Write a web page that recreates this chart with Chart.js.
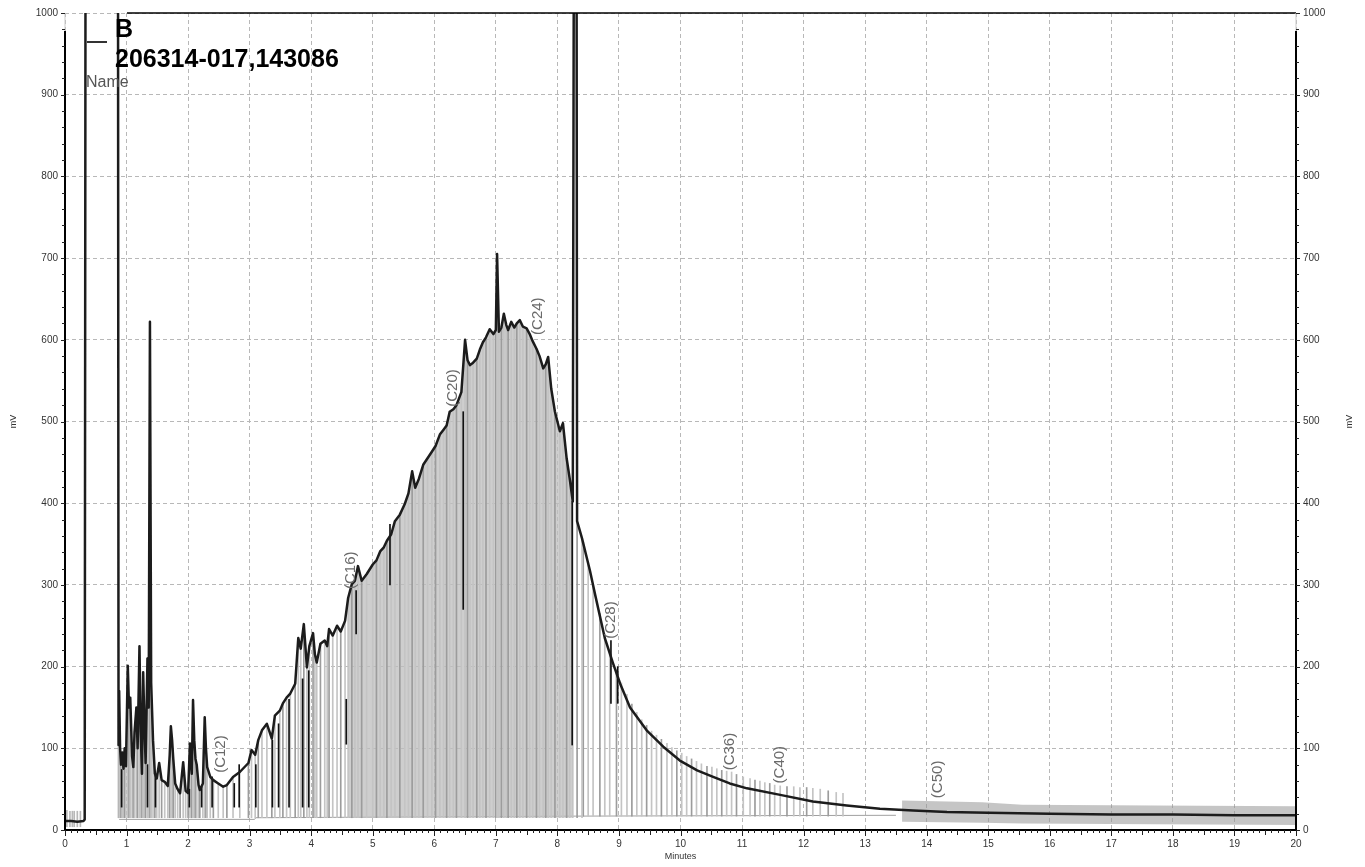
<!DOCTYPE html>
<html>
<head>
<meta charset="utf-8">
<title>206314-017,143086</title>
<script src="https://cdn.jsdelivr.net/npm/chart.js@4.4.1/dist/chart.umd.min.js"></script>
<style>
  html, body { margin: 0; padding: 0; background: #fff; }
  #wrap { width: 1365px; height: 867px; }
</style>
</head>
<body>
<div id="wrap"><canvas id="chromChart" width="1365" height="867"></canvas></div>
<script>
// main chromatogram trace (minutes, mV) - values above 1000 are off scale
var traceTimes = [0, 0.1, 0.2, 0.3, 0.32, 0.335, 0.86, 0.87, 0.88, 0.895, 0.91, 0.93, 0.95, 0.97, 0.99,
  1.02, 1.04, 1.06, 1.09, 1.11, 1.13, 1.16, 1.18, 1.21, 1.23, 1.25, 1.27, 1.29, 1.31, 1.34, 1.36, 1.38,
  1.40, 1.43, 1.46, 1.49, 1.53, 1.57, 1.62, 1.67, 1.70, 1.72, 1.74, 1.76, 1.79, 1.83, 1.87, 1.92, 1.96,
  2.00, 2.03, 2.05, 2.06, 2.08, 2.10, 2.12, 2.14, 2.17, 2.19, 2.24, 2.27, 2.29, 2.31, 2.36, 2.41, 2.49,
  2.57, 2.63, 2.73, 2.84, 2.98, 3.03, 3.09, 3.14, 3.20, 3.28, 3.36, 3.41, 3.49, 3.54, 3.60, 3.66, 3.74,
  3.79, 3.83, 3.88, 3.93, 3.97, 4.03, 4.06, 4.09, 4.15, 4.22, 4.26, 4.29, 4.35, 4.42, 4.48, 4.55, 4.60,
  4.66, 4.71, 4.76, 4.82, 4.90, 5.00, 5.06, 5.12, 5.18, 5.23, 5.30, 5.36, 5.44, 5.52, 5.58, 5.64, 5.69,
  5.75, 5.82, 5.89, 5.96, 6.02, 6.09, 6.15, 6.20, 6.25, 6.31, 6.36, 6.44, 6.50, 6.54, 6.58, 6.63, 6.69,
  6.74, 6.79, 6.84, 6.90, 6.96, 7.00, 7.02, 7.05, 7.09, 7.13, 7.17, 7.20, 7.25, 7.30, 7.34, 7.39, 7.44,
  7.50, 7.55, 7.60, 7.66, 7.71, 7.77, 7.81, 7.85, 7.90, 7.96, 8.04, 8.09, 8.15, 8.20, 8.25, 8.27, 8.31,
  8.32, 8.40, 8.53, 8.61, 8.77, 8.90, 9.02, 9.18, 9.45, 9.72, 9.99, 10.27, 10.53, 10.80, 11.08, 11.62,
  12.15, 12.70, 13.24, 13.78, 14.33, 15, 16, 17, 18, 19, 20];
var traceValues = [11, 11, 10, 11, 13, 1200, 1200, 104, 170, 100, 80, 95, 75, 100, 78,
  201, 150, 162, 90, 77, 120, 150, 100, 225, 120, 69, 193, 130, 82, 210, 150, 622,
  180, 110, 69, 63, 82, 61, 59, 54, 90, 127, 110, 86, 57, 50, 45, 83, 48,
  45, 106, 80, 69, 159, 110, 87, 80, 55, 49, 57, 138, 100, 77, 65, 61, 57,
  53, 55, 65, 71, 82, 98, 92, 110, 122, 130, 112, 140, 146, 155, 162, 167, 179,
  235, 222, 252, 199, 225, 241, 215, 205, 228, 232, 225, 246, 238, 250, 243, 256, 284,
  301, 305, 323, 305, 313, 325, 330, 341, 346, 354, 362, 378, 386, 399, 412, 439, 419,
  430, 447, 455, 463, 470, 484, 490, 495, 512, 515, 520, 536, 600, 575, 569, 572, 577,
  588, 597, 603, 613, 607, 612, 705, 610, 615, 632, 618, 612, 622, 615, 620, 624, 616,
  614, 607, 598, 589, 580, 565, 570, 579, 540, 512, 488, 498, 455, 430, 402, 1200, 1200,
  378, 357, 317, 289, 235, 205, 179, 150, 122, 102, 85, 73, 65, 57, 51, 43,
  35, 30, 26, 24, 22, 21, 20, 19, 19, 18, 18];

// integration baseline
var baseTimes = [0.88, 3.08, 3.1, 8.3, 13.5];
var baseValues = [13, 13, 15, 17, 18];
var dropBase = 15;

// gray peak-marker lines on the tail
var tailTimes = [8.42, 8.50, 8.58, 8.69, 8.77, 8.85, 8.96, 9.04, 9.13, 9.21, 9.29, 9.37, 9.45, 9.53,
  9.61, 9.69, 9.78, 9.86, 9.94, 10.02, 10.10, 10.18, 10.26, 10.34, 10.43, 10.51, 10.59, 10.67, 10.75,
  10.83, 10.91, 11.02, 11.13, 11.21, 11.29, 11.37, 11.45, 11.53, 11.62, 11.73, 11.84, 11.94, 12.05,
  12.15, 12.27, 12.40, 12.53, 12.64];
var tailTops = [352, 328, 302, 265, 240, 218, 196, 180, 166, 154, 144, 135, 128, 121,
  116, 111, 106, 101, 97, 94, 90, 87, 84, 81, 78, 77, 75, 73, 72,
  71, 68, 65, 63, 61, 60, 58, 57, 55, 54, 53, 53, 52, 52,
  51, 50, 48, 46, 45];

// short markers before the solvent peak
var earlyTimes = [0.03, 0.08, 0.12, 0.15, 0.2, 0.25];
var earlyTops = [24, 23, 23, 23, 23, 23];

// late marker band (13.6 - 20 min)
var bandTimes = [13.6, 14.9, 15.55, 17.7, 20];
var bandHigh = [36, 34, 31, 30, 29];
var bandLow = [10, 9, 8, 7, 6];

// black integration marks
var blackTimes = [0.92, 1.34, 1.47, 2.02, 2.22, 2.39, 2.75, 2.83, 3.10, 3.37, 3.47, 3.64, 3.86, 3.96,
  4.57, 4.73, 5.28, 6.47, 8.24, 8.87, 8.98];
var blackLows = [28, 28, 28, 28, 28, 28, 28, 28, 28, 28, 28, 28, 28, 28,
  105, 240, 300, 270, 104, 155, 155];
var blackHighs = [74, 80, 69, 50, 53, 65, 57, 80, 80, 110, 130, 160, 185, 195,
  160, 293, 374, 512, 402, 232, 200];

// carbon number labels
var peakNames = ['(C12)', '(C16)', '(C20)', '(C24)', '(C28)', '(C36)', '(C40)', '(C50)'];
var peakTimes = [2.53, 4.65, 6.3, 7.69, 8.87, 10.8, 11.62, 14.18];
var peakLevels = [70, 295, 518, 606, 234, 73, 57, 39];

var yTicks = [0, 100, 200, 300, 400, 500, 600, 700, 800, 900, 1000];
var xTicks = [0, 1, 2, 3, 4, 5, 6, 7, 8, 9, 10, 11, 12, 13, 14, 15, 16, 17, 18, 19, 20];

var sansFont = 'Arial, "Liberation Sans", sans-serif';

function pts(xs, ys) {
    return xs.map(function (t, i) { return { x: t, y: ys[i] }; });
}
function plainLabel(v) { return String(v); }

var traceData = pts(traceTimes, traceValues);
var traceDrops = [];
var denseFill = [];
traceTimes.forEach(function (t, i) {
    var v = traceValues[i];
    if (t > 0.86 && t < 8.41 && v < 1000) traceDrops.push({ x: t, y: [dropBase, v] });
    if (t >= 4.6 && t <= 8.25) denseFill.push({ x: t, y: v });
});
var tailDrops = tailTimes.map(function (t, i) { return { x: t, y: [17, tailTops[i]] }; });
var earlyDrops = earlyTimes.map(function (t, i) { return { x: t, y: [4, earlyTops[i]] }; });
var blackDrops = blackTimes.map(function (t, i) { return { x: t, y: [blackLows[i], blackHighs[i]] }; });

function stripe(c) { return c.dataIndex % 3 === 0 ? '#9c9c9c' : '#c4c4c4'; }

var overlayPlugin = {
    id: 'chromOverlay',
    afterDatasetsDraw: function (chart) {
        var ctx = chart.ctx;
        var xs = chart.scales.x, ys = chart.scales.y;
        var a = chart.chartArea;
        ctx.save();

        // carbon labels
        ctx.fillStyle = '#6a6a6a';
        ctx.font = '15px ' + sansFont;
        ctx.textAlign = 'left';
        ctx.textBaseline = 'middle';
        peakNames.forEach(function (name, i) {
            ctx.save();
            ctx.translate(xs.getPixelForValue(peakTimes[i]), ys.getPixelForValue(peakLevels[i]));
            ctx.rotate(-Math.PI / 2);
            ctx.fillText(name, 0, 0);
            ctx.restore();
        });

        // frame
        ctx.strokeStyle = '#000';
        ctx.lineWidth = 2;
        ctx.beginPath();
        ctx.moveTo(a.left, a.top + 18); ctx.lineTo(a.left, a.bottom);
        ctx.lineTo(a.right, a.bottom); ctx.lineTo(a.right, a.top + 18);
        ctx.stroke();
        ctx.lineWidth = 1.5;
        ctx.beginPath();
        ctx.moveTo(127, a.top); ctx.lineTo(a.right, a.top);
        ctx.stroke();
        ctx.strokeStyle = '#c8c8c8';
        ctx.lineWidth = 1;
        ctx.beginPath();
        ctx.moveTo(a.left, a.top); ctx.lineTo(a.left, a.top + 18);
        ctx.moveTo(a.right, a.top); ctx.lineTo(a.right, a.top + 18);
        ctx.stroke();

        // tick marks
        ctx.strokeStyle = '#222';
        ctx.lineWidth = 1;
        ctx.beginPath();
        for (var v = 0; v <= 1000; v += 20) {
            var py = Math.round(ys.getPixelForValue(v)) + 0.5;
            var len = v % 100 === 0 ? 4 : 3;
            ctx.moveTo(a.left - len, py); ctx.lineTo(a.left, py);
            ctx.moveTo(a.right, py); ctx.lineTo(a.right + len, py);
        }
        for (var k = 0; k <= 200; k++) {
            var px = Math.round(xs.getPixelForValue(k / 10)) + 0.5;
            var tl = k % 10 === 0 ? 6 : (k % 5 === 0 ? 5 : 3);
            ctx.moveTo(px, a.bottom); ctx.lineTo(px, a.bottom + tl);
        }
        ctx.stroke();

        // axis titles
        ctx.fillStyle = '#333';
        ctx.font = '9px ' + sansFont;
        ctx.textAlign = 'center';
        ctx.textBaseline = 'middle';
        ctx.fillText('Minutes', (a.left + a.right) / 2, 857);
        [14, 1350].forEach(function (tx) {
            ctx.save();
            ctx.translate(tx, (a.top + a.bottom) / 2);
            ctx.rotate(-Math.PI / 2);
            ctx.fillText('mV', 0, 0);
            ctx.restore();
        });

        // legend
        ctx.strokeStyle = '#333';
        ctx.lineWidth = 2;
        ctx.beginPath();
        ctx.moveTo(87, 42); ctx.lineTo(107, 42);
        ctx.stroke();
        ctx.fillStyle = '#000';
        ctx.font = 'bold 25px ' + sansFont;
        ctx.textAlign = 'left';
        ctx.textBaseline = 'alphabetic';
        ctx.fillText('B', 115, 37);
        ctx.fillText('206314-017,143086', 115, 67);
        ctx.fillStyle = '#555';
        ctx.font = '16px ' + sansFont;
        ctx.fillText('Name', 86, 87);

        ctx.restore();
    }
};

var ctx = document.getElementById('chromChart').getContext('2d');
var chromChart = new Chart(ctx, {
    type: 'line',
    data: {
        datasets: [
            {
                label: 'B',
                data: traceData,
                borderColor: '#1c1c1c',
                borderWidth: 2.5,
                borderJoinStyle: 'round',
                pointRadius: 0,
                tension: 0,
                fill: false,
                order: 0
            },
            {
                type: 'bar',
                data: blackDrops,
                backgroundColor: '#111',
                barThickness: 1,
                grouped: false,
                order: 1
            },
            {
                type: 'bar',
                data: traceDrops,
                backgroundColor: stripe,
                barThickness: 1,
                grouped: false,
                order: 2
            },
            {
                type: 'bar',
                data: tailDrops,
                backgroundColor: stripe,
                barThickness: 1,
                grouped: false,
                order: 2
            },
            {
                type: 'bar',
                data: earlyDrops,
                backgroundColor: '#b8b8b8',
                barThickness: 1,
                grouped: false,
                order: 2
            },
            {
                data: denseFill,
                borderColor: 'rgba(0,0,0,0)',
                borderWidth: 0,
                backgroundColor: 'rgba(190,190,190,0.75)',
                pointRadius: 0,
                fill: { value: dropBase },
                order: 3
            },
            {
                data: pts(bandTimes, bandHigh),
                borderColor: 'rgba(0,0,0,0)',
                borderWidth: 0,
                backgroundColor: 'rgba(150,150,150,0.55)',
                pointRadius: 0,
                fill: '+1',
                order: 3
            },
            {
                data: pts(bandTimes, bandLow),
                borderColor: 'rgba(0,0,0,0)',
                borderWidth: 0,
                pointRadius: 0,
                fill: false,
                order: 3
            },
            {
                data: pts(baseTimes, baseValues),
                borderColor: '#a0a0a0',
                borderWidth: 1,
                pointRadius: 0,
                fill: false,
                order: 4
            }
        ]
    },
    options: {
        responsive: false,
        devicePixelRatio: 1,
        animation: false,
        events: [],
        layout: { padding: { top: 10, left: 0, right: 0, bottom: 0 } },
        plugins: {
            legend: { display: false },
            tooltip: { enabled: false }
        },
        scales: {
            x: {
                type: 'linear',
                min: 0,
                max: 20,
                offset: false,
                afterBuildTicks: function (s) { s.ticks = xTicks.map(function (v) { return { value: v }; }); },
                afterFit: function (s) { s.height = 37; },
                ticks: { font: { size: 10, family: sansFont }, color: '#333', padding: 8, maxRotation: 0, callback: plainLabel },
                grid: { color: '#b8b8b8', drawTicks: false, offset: false },
                border: { display: false, dash: [4, 3] }
            },
            y: {
                position: 'left',
                min: 0,
                max: 1000,
                afterBuildTicks: function (s) { s.ticks = yTicks.map(function (v) { return { value: v }; }); },
                afterFit: function (s) { s.width = 65; },
                ticks: { font: { size: 10, family: sansFont }, color: '#333', padding: 7, callback: plainLabel },
                grid: { color: '#b8b8b8', drawTicks: false },
                border: { display: false, dash: [4, 3] }
            },
            y2: {
                position: 'right',
                min: 0,
                max: 1000,
                afterBuildTicks: function (s) { s.ticks = yTicks.map(function (v) { return { value: v }; }); },
                afterFit: function (s) { s.width = 69; },
                ticks: { font: { size: 10, family: sansFont }, color: '#333', padding: 7, callback: plainLabel },
                grid: { display: false, drawTicks: false },
                border: { display: false }
            }
        }
    },
    plugins: [overlayPlugin]
});
</script>
</body>
</html>
